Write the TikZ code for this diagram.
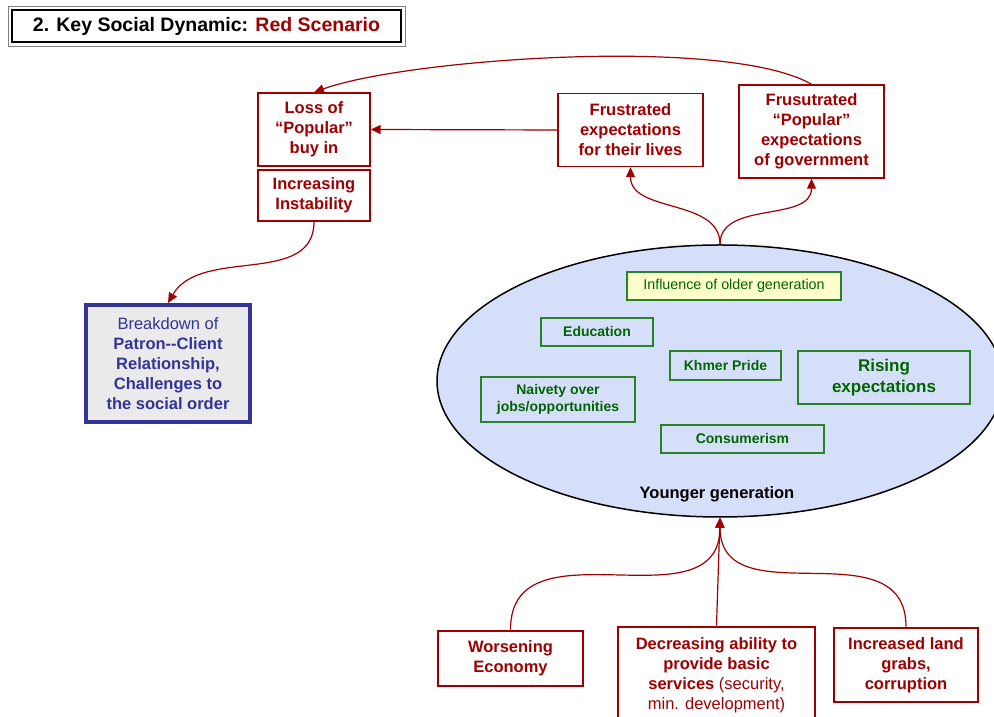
\documentclass[tikz,border=0pt]{standalone}
\usepackage{fontspec}
\setmainfont{Liberation Sans}
\usetikzlibrary{shapes.geometric,arrows.meta}

\definecolor{darkred}{RGB}{160,0,0}
\definecolor{patronblue}{RGB}{51,51,153}
\definecolor{patrongray}{RGB}{234,234,234}
\definecolor{youthblue}{RGB}{214,223,250}
\definecolor{boxgreen}{RGB}{40,130,40}
\definecolor{textgreen}{RGB}{0,100,0}
\definecolor{paleyellow}{RGB}{255,255,204}

\tikzset{
  redbox/.style={draw=darkred, line width=1.4pt, fill=white, text=darkred, align=center, inner sep=0pt,
    font=\fontsize{16.5}{20}\selectfont\bfseries},
  driverbox/.style={redbox, line width=2.8pt},
  greenbox/.style={draw=boxgreen, line width=1.2pt, text=textgreen, align=center, inner sep=0pt,
    font=\fontsize{14}{17.5}\selectfont\bfseries},
  link/.style={draw=darkred, line width=1.2pt, -{Triangle[length=10pt,width=9pt]}},
}

\begin{document}
\begin{tikzpicture}[x=1pt, y=1pt]
\clip (0,0) rectangle (994,717);

% Title
\node (title) [draw, line width=2pt, minimum width=389pt, minimum height=32pt, inner sep=0pt,
  font=\fontsize{19.5}{22}\selectfont\bfseries] at (206.5,691) {2. Key Social Dynamic: \textcolor{darkred}{Red Scenario}};
\draw[gray, line width=0.8pt] ([shift={(-3,-3)}]title.south west) rectangle ([shift={(3,3)}]title.north east);

% Outcome boxes
\node (loss) [redbox, minimum width=112pt, minimum height=73pt] at (314,587.5) {Loss of\\“Popular”\\buy in};
\node (instab) [redbox, minimum width=112pt, minimum height=51pt] at (314,521.5) {Increasing\\Instability};
\node (frustlives) [redbox, minimum width=145pt, minimum height=73pt] at (630.5,587) {Frustrated\\expectations\\for their lives};
\node (frustgov) [redbox, minimum width=145pt, minimum height=93pt] at (811.5,585.5) {Frusutrated\\“Popular”\\expectations\\of government};
\node (breakdown) [draw=patronblue, line width=4pt, fill=patrongray, text=patronblue, align=center, inner sep=0pt,
  minimum width=164pt, minimum height=117pt, font=\fontsize{16.5}{20}\selectfont] at (168,353.5)
  {Breakdown of\\\textbf{Patron-{}-Client}\\\textbf{Relationship,}\\\textbf{Challenges to}\\\textbf{the social order}};

% Younger generation
\node (youth) [ellipse, draw, line width=1.5pt, fill=youthblue, minimum width=566pt, minimum height=272pt] at (720,336) {};
\node (youthlabel) [font=\fontsize{16.5}{19}\selectfont\bfseries] at (717,223) {Younger generation};
\node (older) [greenbox, fill=paleyellow, minimum width=214pt, minimum height=28pt, font=\fontsize{14.3}{17}\selectfont] at (734,431) {Influence of older generation};
\node (edu) [greenbox, minimum width=112pt, minimum height=28pt] at (597,385) {Education};
\node (pride) [greenbox, minimum width=111pt, minimum height=29pt] at (725.5,351.5) {Khmer Pride};
\node (rising) [greenbox, minimum width=172pt, minimum height=53pt, font=\fontsize{17}{21}\selectfont\bfseries] at (884,339.5) {Rising\\expectations};
\node (naive) [greenbox, minimum width=154pt, minimum height=45pt] at (558,317.5) {Naivety over\\jobs/opportunities};
\node (consume) [greenbox, minimum width=163pt, minimum height=28pt] at (742.5,278) {Consumerism};

% Drivers
\node (economy) [driverbox, minimum width=145pt, minimum height=55pt] at (510.5,58.5) {Worsening\\Economy};
\node (services) [driverbox, minimum width=197pt, minimum height=96pt] at (716.5,42)
  {Decreasing ability to\\provide basic\\services \mdseries(security,\\\mdseries min. development)};
\node (landgrab) [driverbox, minimum width=144pt, minimum height=74pt] at (906,52) {Increased land\\grabs,\\corruption};

% Arrows
\draw[link] (youth.north) to[out=90, in=-90] (frustlives.south);
\draw[link] (youth.north) to[out=90, in=-90] (frustgov.south);
\draw[link] (frustlives.west) -- (loss.east);
\draw[link] (frustgov.north) to[out=150, in=20, looseness=0.5] (loss.north);
\draw[link] (instab.south) to[out=-90, in=60] (breakdown.north);
\draw[link] (economy.north) to[out=90, in=-90, looseness=1.2] (youth.south);
\draw[link] (services.north) -- (youth.south);
\draw[link] (landgrab.north) to[out=90, in=-90, looseness=1.2] (youth.south);
\end{tikzpicture}
\end{document}
